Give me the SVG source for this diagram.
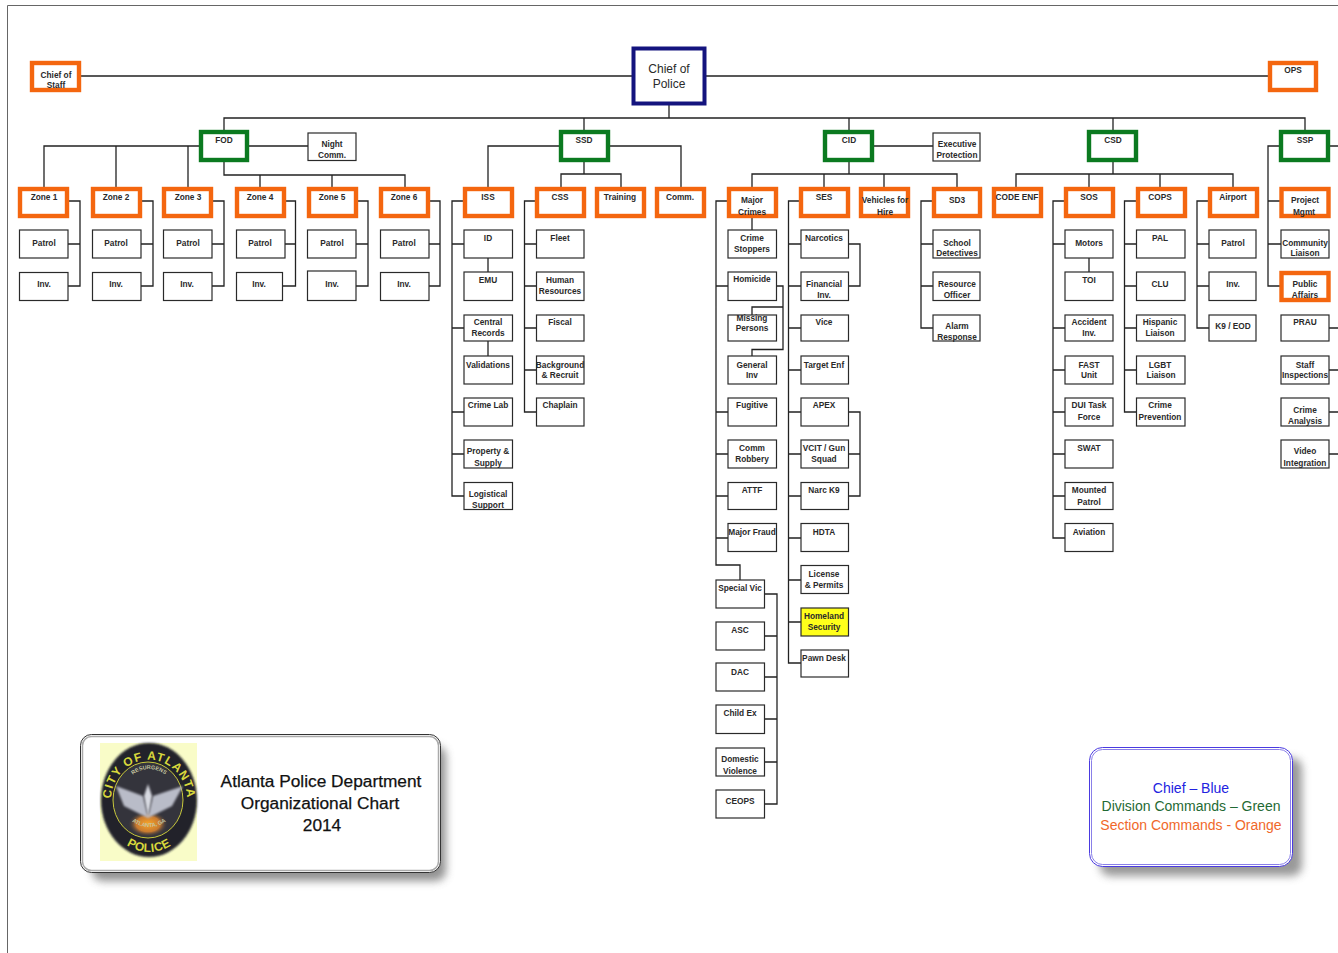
<svg xmlns="http://www.w3.org/2000/svg" width="1338" height="953" viewBox="0 0 1338 953">
<style>
text{font-family:"Liberation Sans",Arial,sans-serif;font-size:8.3px;font-weight:700;fill:#2a2a2a;text-anchor:middle}
.o{fill:#fff;stroke:#f4660f;stroke-width:4.400}
.g{fill:#fff;stroke:#0b7a20;stroke-width:4.400}
.b{fill:#fff;stroke:#2a2a2a;stroke-width:1.200}
.c{fill:none;stroke:#222;stroke-width:1.300}
.big{font-size:17.300px;font-weight:400;fill:#111;stroke:#111;stroke-width:.25}
.leg{font-size:14px;font-weight:400}
</style>
<defs>
<filter id="sh" x="-10%" y="-20%" width="120%" height="140%"><feGaussianBlur stdDeviation="4"/></filter>
<filter id="soft" x="-20%" y="-20%" width="140%" height="140%"><feGaussianBlur stdDeviation="0.900"/></filter>
<radialGradient id="glow" cx="50%" cy="50%" r="50%"><stop offset="0" stop-color="#fba628"/><stop offset="0.6" stop-color="#c87a30"/><stop offset="1" stop-color="#3a3a40" stop-opacity="0"/></radialGradient>
<path id="arcT" d="M112.800 812A38 40 0 1 1 185.200 812"/>
<path id="arcB" d="M117 838Q149 866 181 838"/>
<path id="arcI" d="M122.500 790A28 31 0 0 1 175.500 790"/>
<path id="arcJ" d="M130 820Q149 834 168 820"/>
</defs>
<rect width="1338" height="953" fill="#fff"/>
<path d="M7.500 953V5.500H1338" fill="none" stroke="#666" stroke-width="1"/>

<g id="connectors">
<path class="c" d="M81 76H1268M669 104V118M224 130V118H1305V130M584 118V130M849 118V130M1113 118V130"/>
<path class="c" d="M44 187V146H199M116 146V187M188 146V187M249 146H308M224 161V175H405V187M260 175V187M332 175V187"/>
<path class="c" d="M69 201H80V286H68M68 244H80M142 201H153V286H141M141 244H153M213 201H224V286H212M212 244H224M286 201H295.500V286H282M285 244H295.500M358 201H368V286H356M356 244H368M430 201H440V286H429M429 244H440"/>
<path class="c" d="M488 187V146H560M609 146H681V187M584 161V174M561 187V174H621V187"/>
<path class="c" d="M463 201H452V496H464M452 244H464M452 328H464M452 412H464M452 454H464M488 258V272M488 341V356"/>
<path class="c" d="M535 201H524.500V412H536M524.500 244H536M524.500 286H536M524.500 328H536M524.500 370H536"/>
<path class="c" d="M874 146H933M849 161V174M752 187V174H957V187M824 174V187M884 174V187"/>
<path class="c" d="M727 201H716V565H740V580M716 286H728M716 412H728M716 454H728M716 496H728M716 538H728M752 218V230M777 286H783V349.500H752V356M783 307H752V315"/>
<path class="c" d="M765 594H777V804H765M765 636H777M765 677H777M765 719H777M765 762H777"/>
<path class="c" d="M799 201H788.500V663H801M788.500 244H801M788.500 286H801M788.500 328H801M788.500 370H801M788.500 412H801M788.500 454H801M788.500 496H801M788.500 538H801M788.500 580H801M788.500 622H801M849 244H860V286H849M849 412H860V496H849M849 454H860"/>
<path class="c" d="M932 201H921V328H933M921 244H933M921 286H933"/>
<path class="c" d="M1113 161V174M1016 187V174H1233V187M1089 174V187M1160 174V187"/>
<path class="c" d="M1064 201H1053V538H1065M1053 244H1065M1053 328H1065M1053 370H1065M1053 412H1065M1053 454H1065M1053 496H1065M1089 258V272"/>
<path class="c" d="M1136 201H1124.500V412H1136M1124.500 244H1136M1124.500 286H1136M1124.500 328H1136M1124.500 370H1136"/>
<path class="c" d="M1208 201H1197V328H1209M1197 244H1209M1197 286H1209"/>
<path class="c" d="M1280 146H1268V286H1280M1268 201H1280M1268 244H1281M1330 146H1338M1329 328H1338M1329 370H1338M1329 412H1338M1329 454H1338"/>
</g>

<g id="chief"><rect x="633.500" y="48.500" width="71" height="55" fill="#fff" stroke="#14147e" stroke-width="4"/><text style="font-size:12px;font-weight:400" x="669" y="73">Chief of</text><text style="font-size:12px;font-weight:400" x="669" y="88">Police</text></g>
<g id="chief-of-staff"><rect class="o" x="32" y="63" width="47" height="27"/><text x="56" y="78">Chief of</text><text x="56" y="88">Staff</text></g>
<g id="ops"><rect class="o" x="1270" y="63" width="46" height="27"/><text x="1293" y="73">OPS</text></g>

<g id="fod"><rect class="g" x="201" y="132" width="46" height="28"/><text x="224" y="143">FOD</text></g>
<g id="ssd"><rect class="g" x="561" y="132" width="47" height="28"/><text x="584" y="143">SSD</text></g>
<g id="cid"><rect class="g" x="825" y="132" width="47" height="28"/><text x="849" y="143">CID</text></g>
<g id="csd"><rect class="g" x="1089" y="132" width="47" height="28"/><text x="1113" y="143">CSD</text></g>
<g id="ssp"><rect class="g" x="1281" y="132" width="47" height="28"/><text x="1305" y="143">SSP</text></g>
<g id="night-comm"><rect class="b" x="308" y="133" width="48" height="27.500"/><text x="332" y="147">Night</text><text x="332" y="158">Comm.</text></g>
<g id="executive-protection"><rect class="b" x="933" y="133" width="47" height="28"/><text x="957" y="147">Executive</text><text x="957" y="158">Protection</text></g>

<g id="zone-1"><rect class="o" x="20" y="189" width="47" height="27"/><text x="44" y="200">Zone 1</text></g>
<g id="zone-2"><rect class="o" x="93" y="189" width="47" height="27"/><text x="116" y="200">Zone 2</text></g>
<g id="zone-3"><rect class="o" x="164" y="189" width="47" height="27"/><text x="188" y="200">Zone 3</text></g>
<g id="zone-4"><rect class="o" x="237" y="189" width="47" height="27"/><text x="260" y="200">Zone 4</text></g>
<g id="zone-5"><rect class="o" x="309" y="189" width="47" height="27"/><text x="332" y="200">Zone 5</text></g>
<g id="zone-6"><rect class="o" x="381" y="189" width="47" height="27"/><text x="404" y="200">Zone 6</text></g>
<g id="patrol-1"><rect class="b" x="19.500" y="230" width="48.500" height="28"/><text x="44" y="246">Patrol</text></g>
<g id="patrol-2"><rect class="b" x="92.500" y="230" width="48.500" height="28"/><text x="116" y="246">Patrol</text></g>
<g id="patrol-3"><rect class="b" x="163.500" y="230" width="48.500" height="28"/><text x="188" y="246">Patrol</text></g>
<g id="patrol-4"><rect class="b" x="236.500" y="230" width="48.500" height="28"/><text x="260" y="246">Patrol</text></g>
<g id="patrol-5"><rect class="b" x="307.500" y="230" width="48.500" height="28"/><text x="332" y="246">Patrol</text></g>
<g id="patrol-6"><rect class="b" x="380.500" y="230" width="48.500" height="28"/><text x="404" y="246">Patrol</text></g>
<g id="inv-1"><rect class="b" x="19.500" y="272.500" width="48.500" height="28"/><text x="44" y="287">Inv.</text></g>
<g id="inv-2"><rect class="b" x="92.500" y="272.500" width="48.500" height="28"/><text x="116" y="287">Inv.</text></g>
<g id="inv-3"><rect class="b" x="163.500" y="272.500" width="48.500" height="28"/><text x="187" y="287">Inv.</text></g>
<g id="inv-4"><rect class="b" x="236.500" y="272.500" width="46" height="28"/><text x="259" y="287">Inv.</text></g>
<g id="inv-5"><rect class="b" x="307.500" y="271" width="48.500" height="29.500"/><text x="332" y="287">Inv.</text></g>
<g id="inv-6"><rect class="b" x="380.500" y="272.500" width="48.500" height="28"/><text x="404" y="287">Inv.</text></g>

<g id="iss"><rect class="o" x="465" y="189" width="47" height="27"/><text x="488" y="200">ISS</text></g>
<g id="css"><rect class="o" x="537" y="189" width="47" height="27"/><text x="560" y="200">CSS</text></g>
<g id="training"><rect class="o" x="597" y="189" width="47" height="27"/><text x="620" y="200">Training</text></g>
<g id="comm"><rect class="o" x="657" y="189" width="47" height="27"/><text x="680" y="200">Comm.</text></g>
<g id="id"><rect class="b" x="464" y="230" width="48.500" height="28"/><text x="488" y="241">ID</text></g>
<g id="emu"><rect class="b" x="464" y="272" width="48.500" height="28.500"/><text x="488" y="283">EMU</text></g>
<g id="central-records"><rect class="b" x="464" y="315" width="48.500" height="26"/><text x="488" y="325">Central</text><text x="488" y="336">Records</text></g>
<g id="validations"><rect class="b" x="464" y="356" width="48.500" height="28"/><text x="488" y="368">Validations</text></g>
<g id="crime-lab"><rect class="b" x="464" y="398" width="48.500" height="28"/><text x="488" y="408">Crime Lab</text></g>
<g id="property"><rect class="b" x="464" y="440" width="48.500" height="28"/><text x="488" y="454">Property &amp;</text><text x="488" y="466">Supply</text></g>
<g id="logistical"><rect class="b" x="464" y="482.500" width="48.500" height="27"/><text x="488" y="497">Logistical</text><text x="488" y="508">Support</text></g>
<g id="fleet"><rect class="b" x="536.500" y="230" width="47.500" height="28"/><text x="560" y="241">Fleet</text></g>
<g id="human-resources"><rect class="b" x="536.500" y="272" width="47.500" height="28.500"/><text x="560" y="283">Human</text><text x="560" y="294">Resources</text></g>
<g id="fiscal"><rect class="b" x="536.500" y="315" width="47.500" height="26"/><text x="560" y="325">Fiscal</text></g>
<g id="background"><rect class="b" x="536.500" y="356" width="47.500" height="28"/><text x="560" y="368">Background</text><text x="560" y="378">&amp; Recruit</text></g>
<g id="chaplain"><rect class="b" x="536.500" y="398" width="47.500" height="28"/><text x="560" y="408">Chaplain</text></g>

<g id="major-crimes"><rect class="o" x="729" y="189" width="47" height="27"/><text x="752" y="203">Major</text><text x="752" y="215">Crimes</text></g>
<g id="ses"><rect class="o" x="801" y="189" width="47" height="27"/><text x="824" y="200">SES</text></g>
<g id="vehicles"><rect class="o" x="861" y="189" width="47" height="27"/><text x="885" y="203">Vehicles for</text><text x="885" y="215">Hire</text></g>
<g id="sd3"><rect class="o" x="934" y="189" width="46" height="27"/><text x="957" y="203">SD3</text></g>
<g id="crime-stoppers"><rect class="b" x="728" y="230" width="48.500" height="28"/><text x="752" y="241">Crime</text><text x="752" y="252">Stoppers</text></g>
<g id="homicide"><rect class="b" x="728" y="272" width="48.500" height="28.500"/><text x="752" y="282">Homicide</text></g>
<g id="missing-persons"><rect class="b" x="728" y="315" width="48.500" height="26"/><text x="752" y="321">Missing</text><text x="752" y="331">Persons</text></g>
<g id="general-inv"><rect class="b" x="728" y="356" width="48.500" height="28"/><text x="752" y="368">General</text><text x="752" y="378">Inv</text></g>
<g id="fugitive"><rect class="b" x="728" y="398" width="48.500" height="28"/><text x="752" y="408">Fugitive</text></g>
<g id="comm-robbery"><rect class="b" x="728" y="440" width="48.500" height="28"/><text x="752" y="451">Comm</text><text x="752" y="462">Robbery</text></g>
<g id="attf"><rect class="b" x="728" y="482.500" width="48.500" height="27"/><text x="752" y="493">ATTF</text></g>
<g id="major-fraud"><rect class="b" x="728" y="523.500" width="48.500" height="28"/><text x="752" y="535">Major Fraud</text></g>
<g id="special-vic"><rect class="b" x="716" y="580" width="48.500" height="28"/><text x="740" y="591">Special Vic</text></g>
<g id="asc"><rect class="b" x="716" y="622" width="48.500" height="28"/><text x="740" y="633">ASC</text></g>
<g id="dac"><rect class="b" x="716" y="663" width="48.500" height="28"/><text x="740" y="675">DAC</text></g>
<g id="child-ex"><rect class="b" x="716" y="705" width="48.500" height="28.500"/><text x="740" y="716">Child Ex</text></g>
<g id="domestic-violence"><rect class="b" x="716" y="748" width="48.500" height="28"/><text x="740" y="762">Domestic</text><text x="740" y="774">Violence</text></g>
<g id="ceops"><rect class="b" x="716" y="790" width="48.500" height="28"/><text x="740" y="804">CEOPS</text></g>

<g id="narcotics"><rect class="b" x="801" y="230" width="47.500" height="28"/><text x="824" y="241">Narcotics</text></g>
<g id="financial-inv"><rect class="b" x="801" y="272" width="47.500" height="28.500"/><text x="824" y="287">Financial</text><text x="824" y="298">Inv.</text></g>
<g id="vice"><rect class="b" x="801" y="315" width="47.500" height="26"/><text x="824" y="325">Vice</text></g>
<g id="target-enf"><rect class="b" x="801" y="356" width="47.500" height="28"/><text x="824" y="368">Target Enf</text></g>
<g id="apex"><rect class="b" x="801" y="398" width="47.500" height="28"/><text x="824" y="408">APEX</text></g>
<g id="vcit"><rect class="b" x="801" y="440" width="47.500" height="28"/><text x="824" y="451">VCIT / Gun</text><text x="824" y="462">Squad</text></g>
<g id="narc-k9"><rect class="b" x="801" y="482.500" width="47.500" height="27"/><text x="824" y="493">Narc K9</text></g>
<g id="hdta"><rect class="b" x="801" y="523.500" width="47.500" height="28"/><text x="824" y="535">HDTA</text></g>
<g id="license"><rect class="b" x="801" y="565.500" width="47.500" height="28"/><text x="824" y="577">License</text><text x="824" y="588">&amp; Permits</text></g>
<g id="homeland"><rect class="b" x="801" y="608" width="47.500" height="28" style="fill:#ffff1a"/><text x="824" y="619">Homeland</text><text x="824" y="630">Security</text></g>
<g id="pawn-desk"><rect class="b" x="801" y="650" width="47.500" height="27"/><text x="824" y="661">Pawn Desk</text></g>

<g id="school-detectives"><rect class="b" x="933" y="230" width="47" height="28"/><text x="957" y="246">School</text><text x="957" y="256">Detectives</text></g>
<g id="resource-officer"><rect class="b" x="933" y="272" width="47" height="28.500"/><text x="957" y="287">Resource</text><text x="957" y="298">Officer</text></g>
<g id="alarm-response"><rect class="b" x="933" y="315" width="47" height="26"/><text x="957" y="329">Alarm</text><text x="957" y="340">Response</text></g>

<g id="code-enf"><rect class="o" x="994" y="189" width="47" height="27"/><text x="1017" y="200">CODE ENF</text></g>
<g id="sos"><rect class="o" x="1066" y="189" width="47" height="27"/><text x="1089" y="200">SOS</text></g>
<g id="cops"><rect class="o" x="1138" y="189" width="47" height="27"/><text x="1160" y="200">COPS</text></g>
<g id="airport"><rect class="o" x="1210" y="189" width="47" height="27"/><text x="1233" y="200">Airport</text></g>
<g id="motors"><rect class="b" x="1065" y="230" width="48" height="28"/><text x="1089" y="246">Motors</text></g>
<g id="toi"><rect class="b" x="1065" y="272" width="48" height="28.500"/><text x="1089" y="283">TOI</text></g>
<g id="accident-inv"><rect class="b" x="1065" y="315" width="48" height="26"/><text x="1089" y="325">Accident</text><text x="1089" y="336">Inv.</text></g>
<g id="fast-unit"><rect class="b" x="1065" y="356" width="48" height="28"/><text x="1089" y="368">FAST</text><text x="1089" y="378">Unit</text></g>
<g id="dui"><rect class="b" x="1065" y="398" width="48" height="28"/><text x="1089" y="408">DUI Task</text><text x="1089" y="420">Force</text></g>
<g id="swat"><rect class="b" x="1065" y="440" width="48" height="28"/><text x="1089" y="451">SWAT</text></g>
<g id="mounted"><rect class="b" x="1065" y="482.500" width="48" height="27"/><text x="1089" y="493">Mounted</text><text x="1089" y="505">Patrol</text></g>
<g id="aviation"><rect class="b" x="1065" y="523.500" width="48" height="28"/><text x="1089" y="535">Aviation</text></g>
<g id="pal"><rect class="b" x="1136.500" y="230" width="48.500" height="28"/><text x="1160" y="241">PAL</text></g>
<g id="clu"><rect class="b" x="1136.500" y="272" width="48.500" height="28.500"/><text x="1160" y="287">CLU</text></g>
<g id="hispanic"><rect class="b" x="1136.500" y="315" width="48.500" height="26"/><text x="1160" y="325">Hispanic</text><text x="1160" y="336">Liaison</text></g>
<g id="lgbt"><rect class="b" x="1136.500" y="356" width="48.500" height="28"/><text x="1160" y="368">LGBT</text><text x="1161" y="378">Liaison</text></g>
<g id="crime-prevention"><rect class="b" x="1136.500" y="398" width="48.500" height="28"/><text x="1160" y="408">Crime</text><text x="1160" y="420">Prevention</text></g>
<g id="airport-patrol"><rect class="b" x="1209" y="230" width="47" height="28"/><text x="1233" y="246">Patrol</text></g>
<g id="airport-inv"><rect class="b" x="1209" y="272" width="47" height="28.500"/><text x="1233" y="287">Inv.</text></g>
<g id="k9-eod"><rect class="b" x="1209" y="315" width="47" height="26"/><text x="1233" y="329">K9 / EOD</text></g>

<g id="project-mgmt"><rect class="o" x="1281.500" y="189" width="47" height="27"/><text x="1305" y="203">Project</text><text x="1304" y="215">Mgmt</text></g>
<g id="community-liaison"><rect class="b" x="1281" y="230" width="48" height="28"/><text x="1305" y="246">Community</text><text x="1305" y="256">Liaison</text></g>
<g id="public-affairs"><rect class="o" x="1281.500" y="273" width="47" height="27"/><text x="1305" y="287">Public</text><text x="1305" y="298">Affairs</text></g>
<g id="prau"><rect class="b" x="1281" y="315" width="48" height="26"/><text x="1305" y="325">PRAU</text></g>
<g id="staff-inspections"><rect class="b" x="1281" y="356" width="48" height="28"/><text x="1305" y="368">Staff</text><text x="1305" y="378">Inspections</text></g>
<g id="crime-analysis"><rect class="b" x="1281" y="398" width="48" height="28"/><text x="1305" y="413">Crime</text><text x="1305" y="424">Analysis</text></g>
<g id="video-integration"><rect class="b" x="1281" y="440" width="48" height="28"/><text x="1305" y="454">Video</text><text x="1305" y="466">Integration</text></g>

<g id="title-block">
<rect x="92" y="746" width="354" height="135" rx="10" fill="#777" opacity="0.8" filter="url(#sh)"/>
<rect x="80.500" y="734.500" width="360" height="138" rx="11" fill="#fff" stroke="#333" stroke-width="1"/>
<rect x="82.500" y="736.500" width="356" height="134" rx="9" fill="#fff" stroke="#aaa" stroke-width="1.500"/>
<rect x="100" y="743" width="97" height="118" fill="#f9fcc8"/>
<ellipse cx="149" cy="800" rx="48" ry="57" fill="#24242c" filter="url(#soft)"/>
<ellipse cx="148" cy="800" rx="35" ry="38" fill="#34343c" stroke="#c8c83c" stroke-width="1"/>
<ellipse cx="148" cy="824" rx="20" ry="13" fill="url(#glow)"/>
<path d="M148 818L143 796L116 786L124 806ZM148 818L153 796L183 786L172 806Z" fill="#b9bcc8" filter="url(#soft)"/>
<path d="M144 796L148 784L152 796L148 818Z" fill="#d8dae2" filter="url(#soft)"/>
<text style="font-size:12px;fill:#d8d83c;letter-spacing:1px"><textPath href="#arcT" startOffset="50%">CITY OF ATLANTA</textPath></text>
<text style="font-size:12px;fill:#d8d83c;letter-spacing:.5px"><textPath href="#arcB" startOffset="50%">POLICE</textPath></text>
<text style="font-size:5.500px;fill:#c4c4a0"><textPath href="#arcI" startOffset="50%">RESURGENS</textPath></text>
<text style="font-size:5.500px;fill:#c4c4a0"><textPath href="#arcJ" startOffset="50%">ATLANTA, GA</textPath></text>
<text class="big" x="321" y="787">Atlanta Police Department</text>
<text class="big" x="320" y="809">Organizational Chart</text>
<text class="big" x="322" y="831">2014</text>
</g>

<g id="legend">
<rect x="1100" y="758" width="202" height="118" rx="10" fill="#777" opacity="0.75" filter="url(#sh)"/>
<rect x="1089.500" y="747.500" width="203" height="119" rx="13" fill="#fff" stroke="#4a3ae0" stroke-width="1"/>
<rect x="1091.500" y="749.500" width="199" height="115" rx="11" fill="#fff" stroke="#8a80e8" stroke-width="1"/>
<text class="leg" x="1191" y="793" style="fill:#2222e0">Chief – Blue</text>
<text class="leg" x="1191" y="811" style="fill:#1f6a34">Division Commands – Green</text>
<text class="leg" x="1191" y="830" style="fill:#f0682a">Section Commands - Orange</text>
</g>
</svg>
